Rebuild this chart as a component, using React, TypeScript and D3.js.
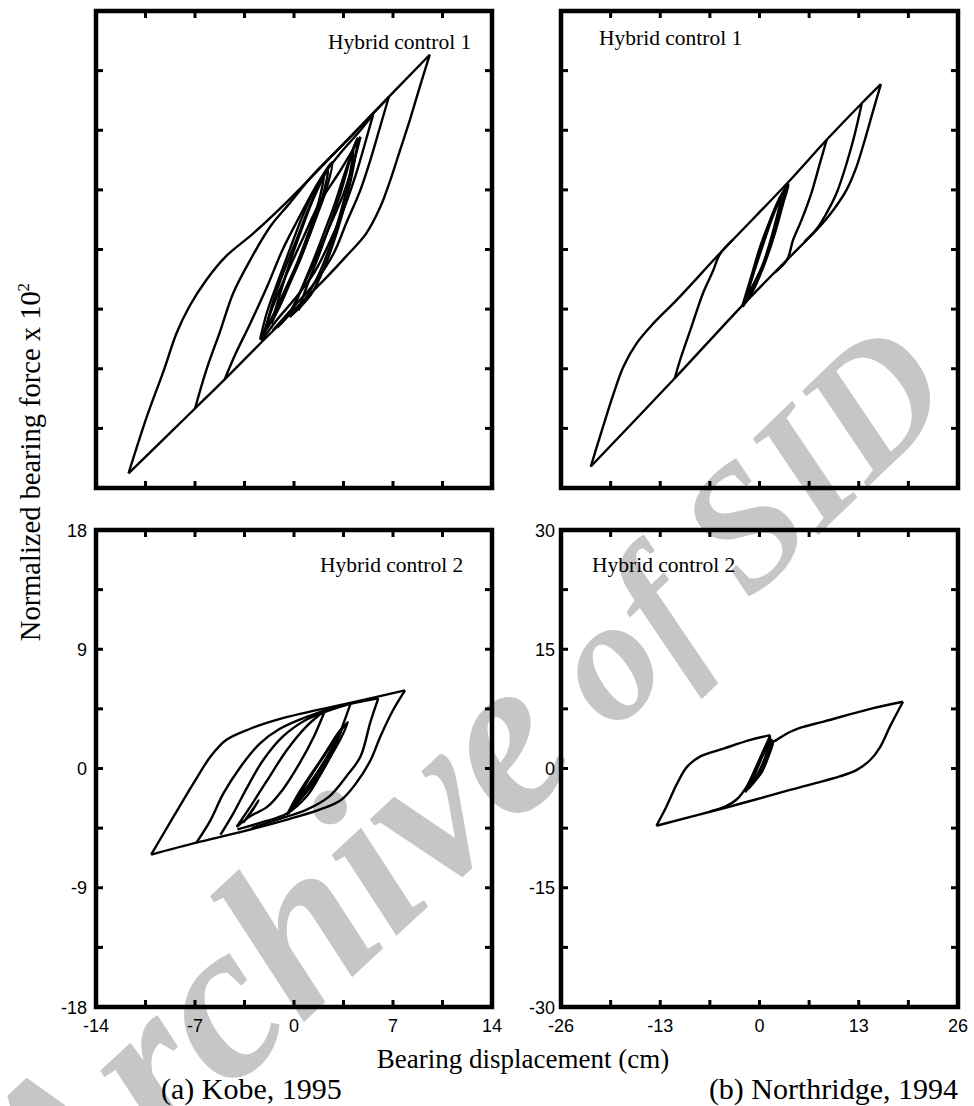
import React from 'react';
import * as d3 from 'd3';

type Pt = [number, number];

// ---- tick labels ----
const kobeXTicks = [-14, -7, 0, 7, 14];
const kobeYTicks = [-18, -9, 0, 9, 18];
const northXTicks = [-26, -13, 0, 13, 26];
const northYTicks = [-30, -15, 0, 15, 30];

// ---- (a) Kobe, Hybrid control 1 : branches of hysteresis loops [disp, force] ----
const kobeH1OuterUp: Pt[] = [[-11.7,-16.9],[-10.4,-12.6],[-9.2,-9.1],[-8.3,-6.3],[-7.4,-4.3],[-6.2,-2.3],[-4.8,-0.5],[-2.9,1.2],[-0.5,3.6],[2.8,7.2],[5.6,10.3],[9.6,14.7]];
const kobeH1OuterDown: Pt[] = [[9.6,14.7],[8.9,12.3],[8.2,9.8],[7.5,7.5],[6.8,5.2],[6.1,3.2],[5.1,1.2],[3.7,-0.5],[2.3,-2.1],[0.9,-3.6],[-0.3,-4.9],[-2.3,-7.0],[-4.9,-9.8],[-7.0,-12.0],[-11.7,-16.9]];
const kobeH1Loop2Up: Pt[] = [[-7.0,-12.0],[-6.2,-9.1],[-5.2,-6.1],[-4.3,-3.3],[-3.1,-0.8],[-1.7,1.7],[-0.3,3.5],[1.4,5.7],[4.0,8.5],[6.7,11.5]];
const kobeH1Loop2Down: Pt[] = [[6.7,11.5],[6.1,9.3],[5.4,6.75],[4.7,4.5],[3.7,2.0],[2.8,-0.3],[1.4,-2.6],[0.0,-4.3],[-1.5,-6.1]];
const kobeH1Loop3Up: Pt[] = [[-4.9,-9.8],[-4.1,-7.8],[-3.1,-5.6],[-1.9,-2.8],[-0.8,0.0],[0.4,2.5],[1.8,5.2],[3.3,7.3],[4.7,9.0],[5.6,10.2]];
const kobeH1Loop3Down: Pt[] = [[5.6,10.2],[5.1,8.3],[4.4,5.75],[3.5,3.0],[2.5,0.5],[1.4,-1.8],[0.0,-3.8],[-1.2,-5.3],[-2.3,-6.9]];
const kobeH1Loop4Up: Pt[] = [[-2.3,-6.8],[-1.5,-4.3],[-0.5,-1.8],[0.7,1.0],[1.8,3.5],[3.3,6.0],[4.7,8.5]];
const kobeH1Loop4Down: Pt[] = [[4.7,8.5],[4.2,6.5],[3.5,4.2],[2.5,1.7],[1.4,-1.0],[0.4,-3.3],[-0.5,-5.1],[-1.2,-5.9]];
const kobeH1BandA: Pt[] = [[-2.4,-6.8],[-1.9,-4.7],[-1.1,-2.3],[-0.3,0.0],[0.6,2.5],[1.5,4.6],[2.7,6.6],[2.3,4.6],[1.6,2.5],[0.7,0.0],[-0.2,-2.3],[-1.2,-4.7],[-2.4,-6.8]];
const kobeH1BandB: Pt[] = [[-2.0,-6.0],[-1.5,-4.0],[-0.7,-1.6],[0.2,0.8],[1.0,3.0],[2.1,5.6],[1.8,3.8],[1.1,1.5],[0.3,-0.8],[-0.7,-3.2],[-1.5,-5.0],[-2.0,-6.0]];
const kobeH1BandC: Pt[] = [[-1.6,-5.6],[-1.0,-3.4],[-0.3,-1.0],[0.5,1.4],[1.4,3.9],[2.4,6.0],[2.0,3.9],[1.3,1.7],[0.5,-0.6],[-0.5,-3.0],[-1.6,-5.6]];
const kobeH1BandD: Pt[] = [[-0.3,-5.1],[0.4,-3.3],[1.3,-1.0],[2.1,1.2],[2.9,3.5],[3.6,5.8],[4.5,8.4],[4.2,6.2],[3.7,3.8],[3.0,1.2],[2.2,-1.2],[1.2,-3.4],[-0.3,-5.1]];
const kobeH1BandE: Pt[] = [[0.3,-4.6],[0.9,-2.8],[1.7,-0.6],[2.5,1.8],[3.3,4.3],[4.2,7.6],[3.9,5.4],[3.3,2.8],[2.6,0.4],[1.7,-2.0],[0.3,-4.6]];

// ---- (b) Northridge, Hybrid control 1 ----
const northH1OuterUp: Pt[] = [[-22.1,-27.3],[-20.5,-22.3],[-19.1,-18.1],[-17.8,-14.7],[-16.1,-11.8],[-13.9,-9.3],[-10.8,-6.3],[-5.2,-0.5],[3.6,8.3],[8.8,13.8],[13.4,18.4],[15.9,20.8]];
const northH1OuterDown: Pt[] = [[15.9,20.8],[14.9,17.5],[13.8,13.8],[12.7,10.4],[11.4,7.5],[9.7,5.0],[7.9,2.9],[3.6,-1.3],[-2.6,-7.4],[-11.1,-16.2],[-22.1,-27.3]];
const northH1Up1: Pt[] = [[-11.1,-16.2],[-10.4,-13.9],[-8.9,-9.7],[-7.4,-5.5],[-6.05,-2.6],[-5.2,-0.6],[-3.5,1.2]];
const northH1Down1: Pt[] = [[8.8,13.8],[7.9,10.8],[6.8,7.1],[5.5,3.7],[4.4,1.2],[3.6,-1.3],[2.0,-2.9]];
const northH1Down2: Pt[] = [[13.4,18.4],[12.5,14.6],[11.4,10.8],[10.1,7.1],[8.8,4.6],[7.5,2.6],[5.9,1.0]];
const northH1BandA: Pt[] = [[-2.3,-7.2],[-1.2,-3.8],[0.1,0.4],[1.4,3.7],[2.7,6.6],[3.8,8.2],[3.1,5.8],[2.0,2.0],[0.7,-1.7],[-0.8,-5.1],[-2.2,-7.2]];
const northH1BandB: Pt[] = [[-2.0,-6.6],[-0.9,-3.2],[0.3,0.6],[1.5,3.9],[2.6,6.3],[3.4,7.6],[2.8,5.2],[1.8,1.8],[0.6,-1.6],[-0.7,-4.5],[-2.0,-6.6]];
const northH1BandC: Pt[] = [[-1.8,-6.2],[-0.7,-2.8],[0.6,1.0],[1.8,4.3],[3.0,7.0],[2.4,4.6],[1.4,1.0],[0.3,-2.2],[-1.8,-6.2]];

// ---- (a) Kobe, Hybrid control 2 ----
const kobeH2OuterUp: Pt[] = [[-10.1,-6.5],[-8.5,-3.6],[-7.1,-1.1],[-5.9,0.9],[-4.8,2.15],[-3.1,3.0],[-0.8,3.8],[1.6,4.4],[4.2,5.0],[7.85,5.9]];
const kobeH2OuterDown: Pt[] = [[7.85,5.9],[7.0,4.4],[6.1,2.4],[5.4,0.6],[4.4,-1.1],[3.3,-2.4],[1.8,-3.1],[-0.3,-3.8],[-3.8,-4.8],[-6.9,-5.6],[-10.1,-6.5]];
const kobeH2Loop2Up: Pt[] = [[-6.9,-5.6],[-5.9,-3.9],[-5.0,-1.9],[-3.8,0.1],[-2.4,1.9],[-1.0,3.0],[0.9,3.9],[3.25,4.7],[5.96,5.3]];
const kobeH2Loop2Down: Pt[] = [[5.96,5.3],[5.4,3.5],[4.7,0.9],[3.7,-0.6],[2.5,-2.1],[0.9,-3.1],[-1.0,-3.8],[-3.0,-4.5]];
const kobeH2Loop3Up: Pt[] = [[-5.2,-5.0],[-4.3,-3.4],[-3.3,-1.4],[-2.2,0.6],[-0.8,2.4],[0.9,3.7],[4.0,4.9]];
const kobeH2Loop3Down: Pt[] = [[4.0,4.9],[3.5,3.4],[2.8,1.4],[1.8,-0.6],[0.9,-2.1],[-0.5,-3.4],[-2.4,-4.1],[-4.0,-4.6]];
const kobeH2Loop4Up: Pt[] = [[-4.05,-4.4],[-3.1,-2.9],[-1.9,-0.9],[-0.5,1.4],[0.9,3.2],[2.2,4.4]];
const kobeH2Loop4Down: Pt[] = [[2.2,4.4],[1.4,2.4],[0.4,0.4],[-0.8,-1.6],[-1.9,-2.9],[-3.1,-3.6],[-4.05,-4.4]];
const kobeH2Hook: Pt[] = [[-3.6,-4.1],[-2.9,-3.1],[-2.5,-2.4],[-2.8,-2.9],[-3.4,-3.8]];
const kobeH2BandA: Pt[] = [[-0.5,-3.5],[0.2,-2.1],[1.1,-0.6],[2.1,0.9],[3.0,2.4],[3.8,3.5],[3.25,2.15],[2.3,0.4],[1.4,-1.1],[0.4,-2.4],[-0.4,-3.4]];
const kobeH2BandB: Pt[] = [[-0.2,-3.2],[0.5,-1.8],[1.4,-0.2],[2.3,1.3],[3.2,2.8],[2.6,1.4],[1.7,-0.2],[0.8,-1.6],[-0.2,-3.2]];
const kobeH2BandC: Pt[] = [[0.0,-2.6],[0.8,-1.2],[1.7,0.3],[2.6,1.8],[3.4,3.1],[2.8,1.6],[1.9,0.0],[1.0,-1.5],[0.0,-2.6]];

// ---- (b) Northridge, Hybrid control 2 ----
const northH2LeftUp: Pt[] = [[-13.5,-7.2],[-12.2,-4.8],[-10.8,-1.9],[-9.5,0.2],[-7.8,1.5],[-4.7,2.5],[-1.2,3.6],[1.4,4.2]];
const northH2LeftDown: Pt[] = [[1.4,4.2],[0.5,2.0],[-0.4,0.2],[-1.7,-2.3],[-3.0,-3.9],[-4.5,-4.8],[-6.5,-5.4]];
const northH2Lower: Pt[] = [[-13.5,-7.2],[-4.7,-5.0],[4.0,-2.7],[10.5,-1.0],[12.7,-0.2],[14.5,1.07],[15.8,2.7],[17.1,5.3],[18.8,8.4]];
const northH2RightUp: Pt[] = [[-1.7,-2.7],[-0.6,-0.3],[0.5,1.8],[1.3,3.0],[2.25,3.6],[3.6,4.4],[5.3,5.1],[8.4,5.9],[14.9,7.6],[18.8,8.4]];
const northH2BandA: Pt[] = [[-1.9,-3.0],[-0.8,-0.6],[0.3,1.8],[1.4,4.0],[0.8,1.6],[-0.3,-0.8],[-1.9,-3.0]];
const northH2BandB: Pt[] = [[-1.5,-2.6],[-0.5,-0.3],[0.6,2.2],[1.6,3.6],[1.0,1.4],[0.0,-0.8],[-1.5,-2.6]];
const northH2BandC: Pt[] = [[-1.2,-2.0],[-0.2,0.2],[0.9,2.6],[1.8,3.4],[1.2,1.6],[0.2,-0.6],[-1.2,-2.0]];

const kobeH1 = [kobeH1OuterUp, kobeH1OuterDown, kobeH1Loop2Up, kobeH1Loop2Down, kobeH1Loop3Up, kobeH1Loop3Down, kobeH1Loop4Up, kobeH1Loop4Down, kobeH1BandA, kobeH1BandB, kobeH1BandC, kobeH1BandD, kobeH1BandE];
const northH1 = [northH1OuterUp, northH1OuterDown, northH1Up1, northH1Down1, northH1Down2, northH1BandA, northH1BandB, northH1BandC];
const kobeH2 = [kobeH2OuterUp, kobeH2OuterDown, kobeH2Loop2Up, kobeH2Loop2Down, kobeH2Loop3Up, kobeH2Loop3Down, kobeH2Loop4Up, kobeH2Loop4Down, kobeH2Hook, kobeH2BandA, kobeH2BandB, kobeH2BandC];
const northH2 = [northH2LeftUp, northH2LeftDown, northH2Lower, northH2RightUp, northH2BandA, northH2BandB, northH2BandC];

const SERIF = '"Liberation Serif", "Times New Roman", serif';
const SANS = '"Liberation Sans", Arial, sans-serif';

type Box = { x0: number; x1: number; y0: number; y1: number };

function Panel(props: {
  box: Box; xTicks: number[]; yTicks: number[]; showX: boolean; showY: boolean;
  branches: Pt[][]; label: string; labelX: number; labelY: number; yLabelGap: number;
}) {
  const { box, xTicks, yTicks, showX, showY, branches, label, labelX, labelY, yLabelGap } = props;
  const xd: [number, number] = [xTicks[0], xTicks[xTicks.length - 1]];
  const yd: [number, number] = [yTicks[0], yTicks[yTicks.length - 1]];
  const x = d3.scaleLinear().domain(xd).range([box.x0, box.x1]);
  const y = d3.scaleLinear().domain(yd).range([box.y1, box.y0]);
  const line = d3.line<Pt>().x(d => x(d[0])).y(d => y(d[1])).curve(d3.curveCatmullRom.alpha(0.5));
  const minorX = d3.range(1, 8).map(i => xd[0] + (i * (xd[1] - xd[0])) / 8);
  const minorY = d3.range(1, 8).map(i => yd[0] + (i * (yd[1] - yd[0])) / 8);
  const tl = 7;
  return (
    <g>
      {branches.map((b, i) => (
        <path key={i} d={line(b) || ''} fill="none" stroke="#000" strokeWidth={2.4} strokeLinejoin="round" />
      ))}
      <rect x={box.x0} y={box.y0} width={box.x1 - box.x0} height={box.y1 - box.y0} fill="none" stroke="#000" strokeWidth={4.5} />
      {minorX.map((v, i) => (
        <g key={'x' + i}>
          <line x1={x(v)} x2={x(v)} y1={box.y1} y2={box.y1 - tl} stroke="#000" strokeWidth={3} />
          <line x1={x(v)} x2={x(v)} y1={box.y0} y2={box.y0 + tl} stroke="#000" strokeWidth={3} />
        </g>
      ))}
      {minorY.map((v, i) => (
        <g key={'y' + i}>
          <line x1={box.x0} x2={box.x0 + tl} y1={y(v)} y2={y(v)} stroke="#000" strokeWidth={3} />
          <line x1={box.x1} x2={box.x1 - tl} y1={y(v)} y2={y(v)} stroke="#000" strokeWidth={3} />
        </g>
      ))}
      {showX && xTicks.map((v, i) => (
        <text key={'xl' + i} x={x(v)} y={box.y1 + 25} textAnchor="middle" fontFamily={SANS} fontSize={18} fill="#000">{v}</text>
      ))}
      {showY && yTicks.map((v, i) => (
        <text key={'yl' + i} x={box.x0 - yLabelGap} y={y(v) + 6.5} textAnchor="end" fontFamily={SANS} fontSize={18} fill="#000">{v}</text>
      ))}
      <text x={labelX} y={labelY} fontFamily={SERIF} fontSize={21.5} fill="#000">{label}</text>
    </g>
  );
}

export default function App() {
  const tl: Box = { x0: 96, x1: 492, y0: 11, y1: 488 };
  const tr: Box = { x0: 561, x1: 958, y0: 11, y1: 488 };
  const bl: Box = { x0: 96, x1: 492, y0: 530, y1: 1007 };
  const br: Box = { x0: 561, x1: 958, y0: 530, y1: 1007 };
  return (
    <svg width={974} height={1106} style={{ position: 'absolute', left: 0, top: 0, background: '#fff' }}>
      <rect x={0} y={0} width={974} height={1106} fill="#fff" />
      <g fill="#c6c6c6" fontFamily={SERIF} fontStyle="italic" fontWeight="bold">
        <text transform="translate(319,1008) rotate(-43)" textAnchor="middle" fontSize={225}>Archive</text>
        <text transform="translate(786,566) rotate(-44)" textAnchor="middle" fontSize={175}>of SID</text>
      </g>
      <Panel box={tl} xTicks={kobeXTicks} yTicks={kobeYTicks} showX={false} showY={false} branches={kobeH1} label="Hybrid control 1" labelX={328} labelY={49} yLabelGap={9} />
      <Panel box={tr} xTicks={northXTicks} yTicks={northYTicks} showX={false} showY={false} branches={northH1} label="Hybrid control 1" labelX={599} labelY={45} yLabelGap={6} />
      <Panel box={bl} xTicks={kobeXTicks} yTicks={kobeYTicks} showX={true} showY={true} branches={kobeH2} label="Hybrid control 2" labelX={320} labelY={572} yLabelGap={9} />
      <Panel box={br} xTicks={northXTicks} yTicks={northYTicks} showX={true} showY={true} branches={northH2} label="Hybrid control 2" labelX={592} labelY={572} yLabelGap={6} />
      <text transform="translate(40,462) rotate(-90)" textAnchor="middle" fontFamily={SERIF} fontSize={28.5} fill="#000">
        Normalized bearing force x 10<tspan dy={-11} fontSize={17}>2</tspan>
      </text>
      <text x={523} y={1068} textAnchor="middle" fontFamily={SERIF} fontSize={27} fill="#000">Bearing displacement (cm)</text>
      <text x={161} y={1099} fontFamily={SERIF} fontSize={30} fill="#000">(a) Kobe, 1995</text>
      <text x={958} y={1099} textAnchor="end" fontFamily={SERIF} fontSize={30} fill="#000">(b) Northridge, 1994</text>
    </svg>
  );
}
